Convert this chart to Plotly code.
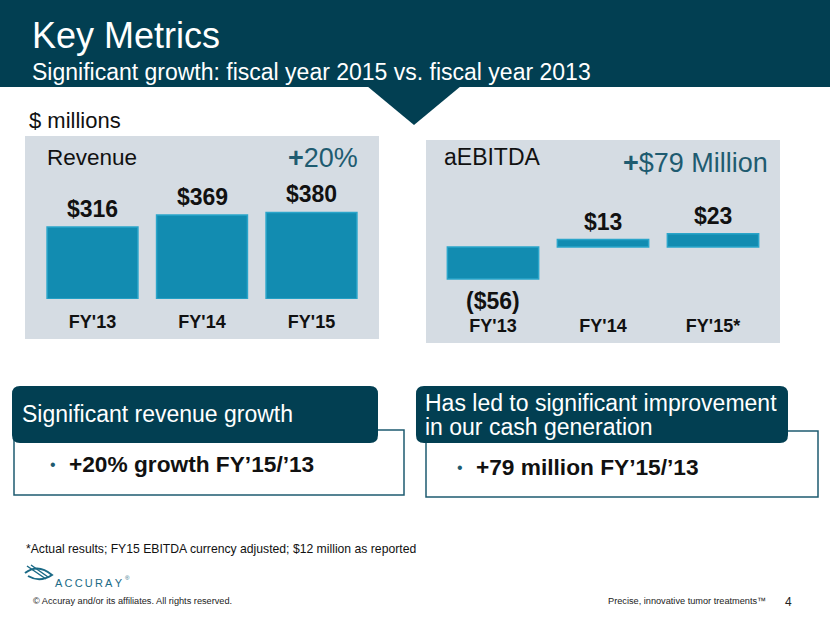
import plotly.graph_objects as go

W, H = 830, 623

# ---------------- data ----------------
rev_categories = ["FY'13", "FY'14", "FY'15"]
rev_values = [316, 369, 380]
rev_labels = ["$316", "$369", "$380"]

ebitda_categories = ["FY'13", "FY'14", "FY'15*"]
ebitda_values = [-56, 13, 23]
ebitda_labels = ["($56)", "$13", "$23"]

# ---------------- styles ----------------
FONT = "Liberation Sans, Arial, Helvetica, sans-serif"
DARK = "#023F52"
PANEL = "#D5DCE3"
BAR = "#128CB1"
BAR_EDGE = "#2AA5CA"
ACCENT = "#1E5B70"
OUTLINE = "#1E5B70"


def px(x):
    return x / W


def py(y):
    return 1 - y / H


def rrect_path(x0, y0, x1, y1, r):
    def P(x, y):
        return f"{px(x):.5f},{py(y):.5f}"
    return (f"M {P(x0 + r, y0)} L {P(x1 - r, y0)} Q {P(x1, y0)} {P(x1, y0 + r)} "
            f"L {P(x1, y1 - r)} Q {P(x1, y1)} {P(x1 - r, y1)} "
            f"L {P(x0 + r, y1)} Q {P(x0, y1)} {P(x0, y1 - r)} "
            f"L {P(x0, y0 + r)} Q {P(x0, y0)} {P(x0 + r, y0)} Z")


fig = go.Figure()

fig.add_trace(go.Bar(
    x=rev_categories, y=rev_values, xaxis="x", yaxis="y",
    marker=dict(color=BAR, line=dict(color=BAR_EDGE, width=1.5)),
    width=0.83, hoverinfo="skip", showlegend=False,
))
fig.add_trace(go.Bar(
    x=ebitda_categories, y=ebitda_values, xaxis="x2", yaxis="y2",
    marker=dict(color=BAR, line=dict(color=BAR_EDGE, width=1.5)),
    width=0.83, hoverinfo="skip", showlegend=False,
))

annotations = []
for c, v, t in zip(rev_categories, rev_values, rev_labels):
    annotations.append(dict(x=c, y=v, xref="x", yref="y", text=t, showarrow=False,
                            yanchor="bottom", yshift=3,
                            font=dict(family=FONT, size=23, color="#111111", weight="bold")))
for c, v, t in zip(ebitda_categories, ebitda_values, ebitda_labels):
    annotations.append(dict(x=c, y=v, xref="x2", yref="y2", text=t, showarrow=False,
                            yanchor="bottom" if v >= 0 else "top",
                            yshift=3 if v >= 0 else -7,
                            font=dict(family=FONT, size=23, color="#111111", weight="bold")))


def txt(x, y, s, size, color="#111111", anchor="left", weight="normal"):
    annotations.append(dict(x=px(x), y=py(y), xref="paper", yref="paper", text=s,
                            showarrow=False, xanchor=anchor, yanchor="middle",
                            font=dict(family=FONT, size=size, color=color, weight=weight)))


txt(30, 35, "Key Metrics", 36, "white")
txt(30, 72, "Significant growth: fiscal year 2015 vs. fiscal year 2013", 23, "white")
txt(27, 120, "$ millions", 22)
txt(45, 157, "Revenue", 22.5)
txt(360, 158, "<b>+</b>20%", 27, ACCENT, anchor="right")
txt(442, 157, "aEBITDA", 23)
txt(770, 163, "<b>+</b>$79 Million", 27, ACCENT, anchor="right")
txt(20, 414, "Significant revenue growth", 23, "white")
txt(423, 403, "Has led to significant improvement", 23, "white")
txt(423, 427, "in our cash generation", 23, "white")
txt(48, 464, "•", 16, ACCENT)
txt(67, 464, "+20% growth FY’15/’13", 22.7, "#111111", weight="bold")
txt(455, 467, "•", 16, ACCENT)
txt(474, 467, "+79 million FY’15/’13", 22.7, "#111111", weight="bold")
txt(24, 549, "*Actual results; FY15 EBITDA currency adjusted; $12 million as reported", 12.2)
txt(53, 583, "A\u2009C\u2009C\u2009U\u2009R\u2009A\u2009Y", 11, "#1B6A86")
txt(123, 578, "®", 6, "#1B6A86")
txt(31, 601, "© Accuray and/or its affiliates. All rights reserved.", 9.2, "#222222")
txt(768, 601, "Precise, innovative tumor treatments™", 9.2, "#222222", anchor="right")
txt(788, 602, "4", 12, "#222222", anchor="center")

shapes = [
    dict(type="rect", xref="paper", yref="paper", x0=0, x1=1, y0=py(87), y1=1,
         fillcolor=DARK, line=dict(width=0), layer="below"),
    dict(type="path", xref="paper", yref="paper",
         path=f"M {px(367)},{py(86)} L {px(461)},{py(86)} L {px(414)},{py(125)} Z",
         fillcolor=DARK, line=dict(width=0), layer="below"),
    dict(type="rect", xref="paper", yref="paper", x0=px(25), x1=px(379), y0=py(339), y1=py(136),
         fillcolor=PANEL, line=dict(width=0), layer="below"),
    dict(type="rect", xref="paper", yref="paper", x0=px(426), x1=px(780), y0=py(343), y1=py(140),
         fillcolor=PANEL, line=dict(width=0), layer="below"),
    dict(type="rect", xref="paper", yref="paper", x0=px(14), x1=px(404), y0=py(495), y1=py(430),
         fillcolor="white", line=dict(color=OUTLINE, width=1.5), layer="below"),
    dict(type="rect", xref="paper", yref="paper", x0=px(426), x1=px(818), y0=py(497), y1=py(431),
         fillcolor="white", line=dict(color=OUTLINE, width=1.5), layer="below"),
    dict(type="path", xref="paper", yref="paper", path=rrect_path(12, 386, 378, 443, 8),
         fillcolor=DARK, line=dict(width=0), layer="below"),
    dict(type="path", xref="paper", yref="paper", path=rrect_path(416, 386, 788, 443, 8),
         fillcolor=DARK, line=dict(width=0), layer="below"),
    dict(type="path", xref="paper", yref="paper",
         path=f"M {px(25)},{py(573)} Q {px(38)},{py(563)} {px(52)},{py(575)} "
              f"Q {px(40)},{py(583)} {px(28)},{py(576)}",
         line=dict(color="#1B6A86", width=2), layer="above"),
    dict(type="path", xref="paper", yref="paper",
         path=f"M {px(27)},{py(566)} L {px(46)},{py(579)} M {px(31)},{py(565)} L {px(48)},{py(577)}",
         line=dict(color="#1B6A86", width=1.5), layer="above"),
]

rev_zero_px, rev_top_px, rev_scale = 299, 136, 4.39
eb_zero_px, eb_top_px, eb_bot_px, eb_scale = 247, 140, 300, 1.75

fig.update_layout(
    width=W, height=H,
    margin=dict(l=0, r=0, t=0, b=0),
    paper_bgcolor="white", plot_bgcolor="rgba(0,0,0,0)",
    bargap=0.17,
    xaxis=dict(domain=[px(37.75), px(366.25)], range=[-0.5, 2.5], anchor="y",
               showgrid=False, zeroline=False, showline=False, ticks="",
               tickfont=dict(family=FONT, size=18, color="#111111", weight="bold"),
               ticklabelstandoff=10, fixedrange=True),
    yaxis=dict(domain=[py(rev_zero_px), py(rev_top_px)],
               range=[0, (rev_zero_px - rev_top_px) * rev_scale],
               visible=False, fixedrange=True),
    xaxis2=dict(domain=[px(438), px(768)], range=[-0.5, 2.5], anchor="y2",
                showgrid=False, zeroline=False, showline=False, ticks="",
                tickfont=dict(family=FONT, size=18, color="#111111", weight="bold"),
                ticklabelstandoff=13, fixedrange=True),
    yaxis2=dict(domain=[py(eb_bot_px), py(eb_top_px)],
                range=[-(eb_bot_px - eb_zero_px) * eb_scale, (eb_zero_px - eb_top_px) * eb_scale],
                visible=False, fixedrange=True),
    shapes=shapes,
    annotations=annotations,
)

fig.write_html("out.html", config={"displayModeBar": False},
               post_script="document.body.style.margin='0';")
